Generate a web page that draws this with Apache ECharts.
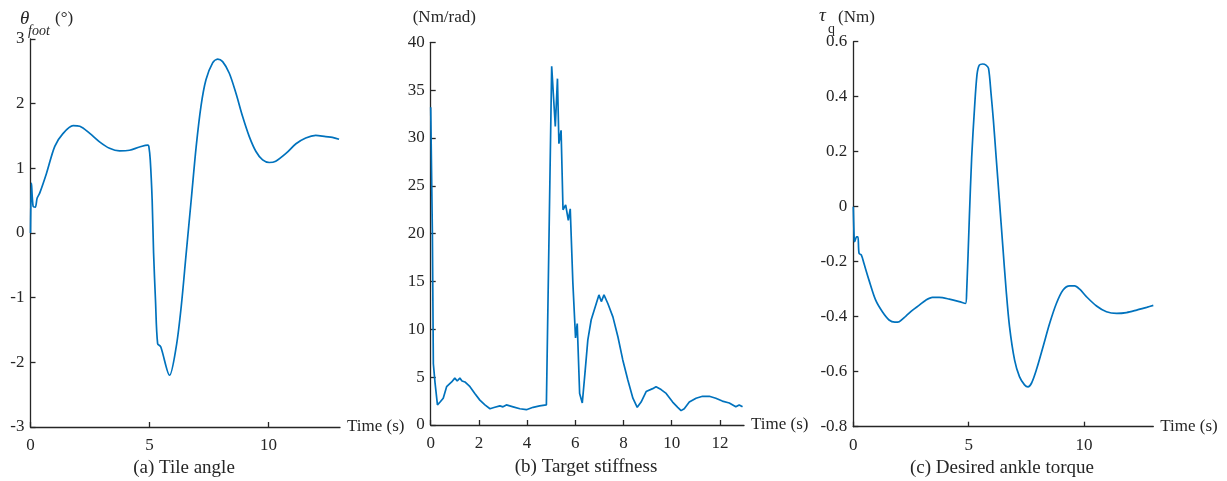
<!DOCTYPE html>
<html><head><meta charset="utf-8">
<script src="https://cdn.jsdelivr.net/npm/echarts@6/dist/echarts.min.js"></script>
<style>html,body{margin:0;padding:0;background:#fff}#c{width:1227px;height:481px}</style>
</head><body><div id="c"></div>
<script>
// (a) Tilt angle
const tiltTime  = [0,0.04,0.11,0.2,0.28,0.39,0.67,1.02,1.37,1.79,2.07,2.49,2.9,3.32,3.74,4.16,4.58,4.93,4.97,5.03,5.11,5.17,5.25,5.34,5.47,5.84,6.12,6.33,6.54,6.75,6.96,7.16,7.37,7.65,7.86,8.07,8.35,8.63,8.91,9.19,9.47,9.75,10.03,10.3,10.73,11.15,11.56,11.98,12.4,12.68,12.96];
const tiltAngle = [0,0.77,0.41,0.40,0.54,0.62,0.92,1.34,1.54,1.66,1.65,1.54,1.41,1.31,1.27,1.28,1.33,1.36,1.34,1.13,0.51,-0.31,-1.04,-1.71,-1.76,-2.20,-1.76,-1.14,-0.31,0.51,1.34,1.96,2.37,2.63,2.69,2.65,2.47,2.16,1.80,1.49,1.26,1.13,1.09,1.11,1.23,1.38,1.47,1.51,1.49,1.48,1.45];
// (b) Target stiffness
const stiffTime  = [0,0.07,0.11,0.18,0.28,0.39,0.52,0.66,0.87,1.0,1.1,1.21,1.3,1.42,1.63,1.83,2.04,2.25,2.46,2.66,2.87,3.0,3.14,3.42,3.7,3.97,4.25,4.52,4.8,4.88,5.02,5.17,5.26,5.32,5.41,5.49,5.6,5.71,5.79,5.9,6.01,6.08,6.18,6.29,6.4,6.52,6.66,6.87,6.98,7.08,7.19,7.35,7.56,7.77,7.97,8.18,8.39,8.57,8.73,8.94,9.21,9.35,9.56,9.77,10.04,10.25,10.39,10.52,10.73,11.01,11.28,11.56,11.83,12.1,12.39,12.66,12.8,12.94];
const stiffValue = [33.2,20,6.4,4.4,2.1,2.4,2.8,4.0,4.5,4.9,4.6,4.9,4.6,4.5,4.0,3.3,2.6,2.1,1.7,1.85,2.0,1.9,2.1,1.9,1.7,1.6,1.85,2.0,2.1,2.3,37.5,31.2,36.2,29.4,30.8,22.5,23.0,21.4,22.6,14.8,9.1,10.6,3.3,2.3,5.4,8.9,11.0,12.7,13.6,12.9,13.6,12.7,11.3,9.2,6.8,4.7,2.8,1.85,2.4,3.5,3.8,4.0,3.7,3.3,2.4,1.85,1.5,1.7,2.4,2.8,3.0,3.0,2.8,2.5,2.3,1.9,2.1,1.9];
// (c) Desired ankle torque
const torqueTime  = [0,0.04,0.06,0.14,0.2,0.25,0.35,0.46,0.68,0.97,1.26,1.55,1.8,1.99,2.28,2.57,2.86,3.14,3.43,3.72,4.16,4.59,4.86,4.91,5.03,5.13,5.25,5.36,5.46,5.61,5.75,5.86,5.97,6.07,6.19,6.33,6.48,6.62,6.77,6.99,7.2,7.42,7.57,7.72,7.93,8.22,8.51,8.8,9.09,9.38,9.59,9.81,10.1,10.54,10.97,11.41,11.84,12.28,12.71,13.0];
const torqueValue = [0,-0.12,-0.127,-0.11,-0.11,-0.17,-0.176,-0.206,-0.267,-0.34,-0.382,-0.412,-0.42,-0.418,-0.398,-0.376,-0.358,-0.34,-0.33,-0.33,-0.336,-0.345,-0.352,-0.315,-0.036,0.18,0.355,0.48,0.515,0.519,0.515,0.503,0.41,0.315,0.18,0.024,-0.145,-0.30,-0.436,-0.558,-0.618,-0.648,-0.655,-0.642,-0.594,-0.51,-0.424,-0.352,-0.303,-0.288,-0.288,-0.30,-0.327,-0.361,-0.382,-0.388,-0.385,-0.376,-0.366,-0.359];

const aTicks = [0,5,10];
const bTicks = [0,2,4,6,8,10,12];
const cTicks = [0,5,10];

const INK = '#262626', BLUE = '#0072BD', SERIF = 'Liberation Serif';
function pairs(xs, ys){ return xs.map((x,i)=>[x, ys[i]]); }
function xAx(idx, ticks){
  return {type:'value', gridIndex: idx, min:0, max:13,
    name:'Time (s)', nameLocation:'end', nameGap:7,
    nameTextStyle:{fontFamily:SERIF, fontSize:17, color:INK, verticalAlign:'middle', align:'left'},
    axisLine:{show:true, onZero:false, lineStyle:{color:INK, width:1.3}},
    axisTick:{show:true, inside:true, length:5, customValues:ticks, lineStyle:{color:INK, width:1.3}},
    axisLabel:{customValues:ticks, margin:10, fontFamily:SERIF, fontSize:17, color:INK},
    splitLine:{show:false}};
}
function yAx(idx, min, max, interval){
  return {type:'value', gridIndex: idx, min, max, interval,
    axisLine:{show:true, onZero:false, lineStyle:{color:INK, width:1.3}},
    axisTick:{show:true, inside:true, length:5, lineStyle:{color:INK, width:1.3}},
    axisLabel:{margin:6, fontFamily:SERIF, fontSize:17, color:INK},
    splitLine:{show:false}};
}
function txt(x, y, text, size, opts){
  return Object.assign({type:'text', x, y, style:Object.assign({text, fill:INK, font: size+'px "Liberation Serif"', textAlign:'left', textVerticalAlign:'middle'}, opts||{})});
}
const chart = echarts.init(document.getElementById('c'), null, {renderer:'canvas'});
chart.setOption({
  animation:false,
  backgroundColor:'#fff',
  grid:[
    {left:30.5, top:39, width:309.5, height:388},
    {left:430.7, top:42.3, width:313.3, height:382.7},
    {left:853.3, top:41.7, width:300, height:385}
  ],
  xAxis:[xAx(0,aTicks), xAx(1,bTicks), xAx(2,cTicks)],
  yAxis:[yAx(0,-3,3,1), yAx(1,0,40,5), yAx(2,-0.8,0.6,0.2)],
  series:[
    {type:'line', xAxisIndex:0, yAxisIndex:0, data:pairs(tiltTime,tiltAngle), smooth:0.3, showSymbol:false, lineStyle:{color:BLUE, width:1.7}},
    {type:'line', xAxisIndex:1, yAxisIndex:1, data:pairs(stiffTime,stiffValue), showSymbol:false, lineStyle:{color:BLUE, width:1.7}},
    {type:'line', xAxisIndex:2, yAxisIndex:2, data:pairs(torqueTime,torqueValue), smooth:0.3, showSymbol:false, lineStyle:{color:BLUE, width:1.7}}
  ],
  graphic:[
    txt(20, 19, 'θ', 18, {font:'italic 19px "Liberation Serif"'}),
    txt(28, 31, 'foot', 13, {font:'italic 14px "Liberation Serif"'}),
    txt(55, 19, '(°)', 17),
    txt(412.7, 18, '(Nm/rad)', 17),
    txt(819, 16, 'τ', 18, {font:'italic 19px "Liberation Serif"'}),
    txt(828, 29, 'q', 14),
    txt(838, 18, '(Nm)', 17),
    txt(184, 468, '(a) Tile angle', 19, {textAlign:'center'}),
    txt(586, 467, '(b) Target stiffness', 19, {textAlign:'center'}),
    txt(1002, 468, '(c) Desired ankle torque', 19, {textAlign:'center'})
  ]
});
</script></body></html>
